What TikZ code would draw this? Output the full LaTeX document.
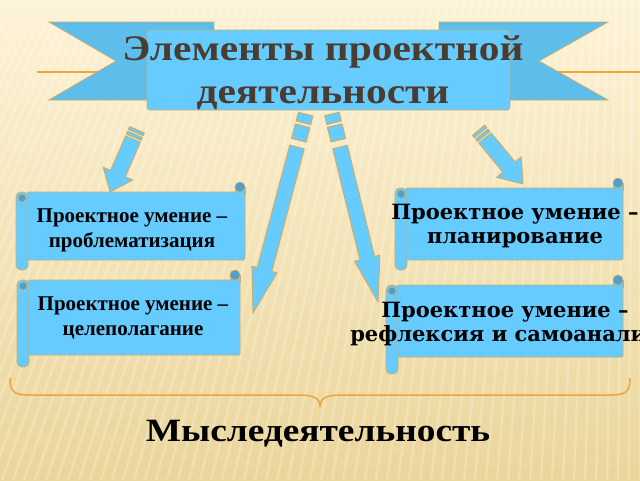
\documentclass[tikz,border=0pt]{standalone}
\usepackage{fontspec}
\setmainfont{Liberation Serif}
\newfontfamily\djserif{DejaVu Serif}
\newfontfamily\widetimes[FakeStretch=1.15]{Liberation Serif}
\usetikzlibrary{calc}

\definecolor{bgtop}{HTML}{FDF3D6}
\definecolor{bgbot}{HTML}{EAD59B}
\definecolor{ribbon}{HTML}{66CCFF}
\definecolor{ribbondark}{HTML}{5DBDEB}
\definecolor{knobblue}{HTML}{4E9FCB}
\definecolor{tan}{HTML}{C8AE6E}
\definecolor{orangeln}{HTML}{F0A43C}
\definecolor{titletext}{HTML}{4A3C30}

% block arrow: #1 from, #2 to, #3 half shaft, #4 half head, #5 head length
\newcommand\blockarrow[5]{%
  \path ($(#2)!#5!(#1)$) coordinate (hb);
  \filldraw[arrowbody] ($(#1)!#3!90:(#2)$) -- ($(hb)!#3!-90:(#1)$)
    -- ($(hb)!#4!-90:(#1)$) -- (#2) -- ($(hb)!#4!90:(#1)$)
    -- ($(hb)!#3!90:(#1)$) -- ($(#1)!#3!-90:(#2)$) -- cycle;
}
% stripe behind the arrow tail: #1 from, #2 to, #3 #4 distances, #5 half width
\newcommand\arrowstripe[5]{%
  \path ($(#1)!#3!(#2)$) coordinate (sa) ($(#1)!#4!(#2)$) coordinate (sb);
  \filldraw[arrowbody] ($(sa)!#5!90:(#2)$) -- ($(sb)!#5!90:(#2)$)
    -- ($(sb)!#5!-90:(#2)$) -- ($(sa)!#5!-90:(#2)$) -- cycle;
}
% scroll: #1 #2 top left, #3 #4 bottom right, #5 end of the roll
\newcommand\scrollbox[5]{%
  \filldraw[scroll,rounded corners=5pt] (#1-11,#2) rectangle (#1+1,#5);
  \filldraw[scroll] (#3-10,#2+2) rectangle (#3,#2-5);
  \filldraw[scroll,rounded corners=1.5pt] (#1,#2) rectangle (#3,#4);
  \filldraw[knob] (#3-5,#2-5) circle (5);
  \filldraw[knob] (#1-5,#2+6) circle (4);
}

\begin{document}
\begin{tikzpicture}[x=1pt,y=-1pt]
  \tikzstyle{scroll}=[fill=ribbon,draw=tan,line width=0.8pt]
  \tikzstyle{knob}=[fill=knobblue,draw=tan,line width=0.6pt]
  \tikzstyle{arrowbody}=[fill=ribbon,draw=tan,line width=1pt,line join=round]
  \tikzstyle{stripe}=[white,opacity=0.22,line width=2.5pt]
  \tikzstyle{smalltext}=[align=center,inner sep=0pt,font=\bfseries\fontsize{21}{25}\selectfont]
  \tikzstyle{widetext}=[align=center,inner sep=0pt,font=\djserif\bfseries\fontsize{21}{24}\selectfont]

  \useasboundingbox (0,0) rectangle (640,480);
  \clip (0,0) rectangle (640,480);
  \shade[top color=bgtop,bottom color=bgbot] (0,0) rectangle (640,480);
  \foreach \t in {-120,-112,...,760}
    \draw[stripe] (\t,0) -- ({\t-240*(1-\t/640)},480);

  % title ribbon
  \draw[orangeln,line width=1.2pt] (37,72) -- (640,72);
  \filldraw[scroll,fill=ribbondark] (49,22) -- (214,22) -- (214,100) -- (49,100) -- (116,61) -- cycle;
  \filldraw[scroll,fill=ribbondark] (608,22) -- (439,22) -- (439,100) -- (608,100) -- (539,61) -- cycle;
  \filldraw[scroll,rounded corners=3pt] (147,30) rectangle (510,110);
  \node[align=center,text=titletext,font=\widetimes\bfseries\fontsize{36}{43}\selectfont] (title) at (323,73)
    {Элементы проектной\\деятельности};

  % arrows
  \coordinate (a1s) at (133,139);
  \coordinate (a1e) at (110,192);
  \coordinate (a2s) at (297,147);
  \coordinate (a2e) at (253,313);
  \coordinate (a3s) at (340,147);
  \coordinate (a3e) at (378,302);
  \coordinate (a4s) at (485,138);
  \coordinate (a4e) at (523,184);

  \blockarrow{a1s}{a1e}{8pt}{16pt}{20pt}
  \arrowstripe{a1s}{a1e}{-2pt}{-5pt}{8pt}
  \arrowstripe{a1s}{a1e}{-7pt}{-10pt}{8pt}
  \blockarrow{a4s}{a4e}{8pt}{16pt}{22pt}
  \arrowstripe{a4s}{a4e}{-2pt}{-5pt}{8pt}
  \arrowstripe{a4s}{a4e}{-7pt}{-10pt}{8pt}
  \blockarrow{a2s}{a2e}{7.5pt}{13pt}{45pt}
  \arrowstripe{a2s}{a2e}{-7pt}{-22pt}{7.5pt}
  \arrowstripe{a2s}{a2e}{-25pt}{-34pt}{7.5pt}
  \blockarrow{a3s}{a3e}{7.5pt}{13pt}{45pt}
  \arrowstripe{a3s}{a3e}{-7pt}{-22pt}{7.5pt}
  \arrowstripe{a3s}{a3e}{-25pt}{-34pt}{7.5pt}

  % scrolls
  \scrollbox{27}{192}{245}{260}{270}
  \scrollbox{28}{280}{240}{355}{367}
  \scrollbox{406}{188}{623}{260}{270}
  \scrollbox{397}{285}{623}{357}{374}

  \node[smalltext] (problem) at (132,230) {Проектное умение –\\проблематизация};
  \node[smalltext] (goal) at (133,318) {Проектное умение –\\целеполагание};
  \node[widetext] (plan) at (515,226) {Проектное умение –\\планирование};
  \node[widetext] (reflex) at (505,324) {Проектное умение –\\рефлексия и самоанализ};

  % brace
  \draw[orangeln,line width=1.5pt] (10,378) .. controls (10,392) and (14,395) .. (30,395)
    -- (298,395) .. controls (314,395) and (320,398) .. (320,407)
    .. controls (320,398) and (326,395) .. (342,395) -- (610,395)
    .. controls (626,395) and (630,392) .. (630,378);
  \node[font=\widetimes\bfseries\fontsize{32.5}{34}\selectfont] (thinking) at (318,434) {Мыследеятельность};
\end{tikzpicture}
\end{document}
